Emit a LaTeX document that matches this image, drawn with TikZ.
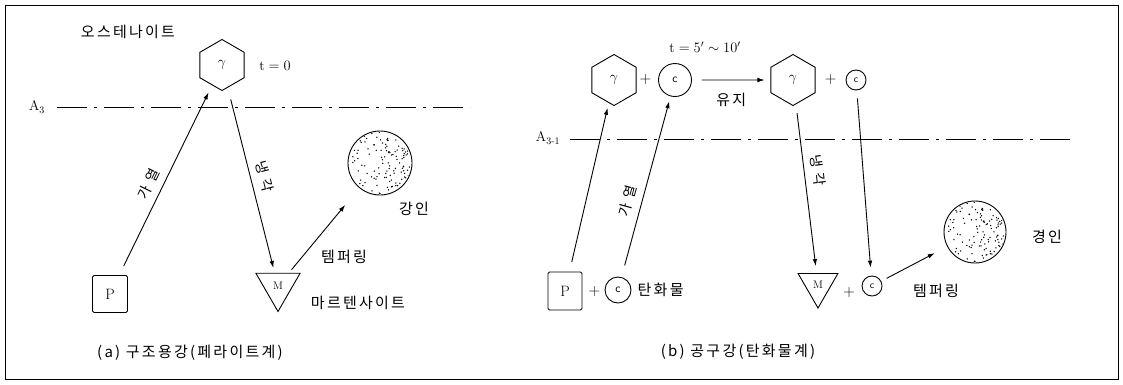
\documentclass[tikz,border=0pt]{standalone}
\usepackage{fontspec}
\usepackage{amsmath}
\newfontfamily\korfont[LetterSpace=15]{Noto Sans CJK KR}
\newfontfamily\korwide[LetterSpace=40]{Noto Sans CJK KR}
\usetikzlibrary{arrows.meta, positioning, shapes.geometric}

\begin{document}
\begin{tikzpicture}[
    x=1pt, y=-1pt,
    hexnode/.style={
      regular polygon,
      regular polygon sides=6,
      shape border rotate=30,
      draw,
      line width=0.9pt,
      inner sep=0pt,
      minimum size=51pt,
      font=\fontsize{15}{15}\selectfont
    },
    trinode/.style={
      regular polygon,
      regular polygon sides=3,
      shape border rotate=180,
      draw,
      line width=0.9pt,
      inner sep=0pt,
      font=\fontsize{11}{11}\selectfont
    },
    boxnode/.style={
      rectangle,
      rounded corners=1.5pt,
      draw,
      line width=0.9pt,
      minimum width=35pt,
      minimum height=37pt,
      font=\fontsize{15}{15}\selectfont
    },
    carbnode/.style={
      circle,
      draw,
      line width=0.9pt,
      inner sep=0pt,
      font=\sffamily\fontsize{12}{12}\selectfont
    },
    grainnode/.style={circle, draw, line width=0.9pt, inner sep=0pt},
    kortext/.style={font=\korfont\fontsize{15}{17}\selectfont, inner sep=1pt},
    numtext/.style={font=\fontsize{14}{16}\selectfont, inner sep=1pt},
    plusnode/.style={font=\fontsize{16}{16}\selectfont, inner sep=0pt},
    slopelab/.style={font=\korwide\fontsize{14}{16}\selectfont, inner sep=1pt, sloped, above=6pt},
    arr/.style={-{Latex[length=7pt, width=4.5pt]}, line width=0.9pt},
    tline/.style={line width=0.9pt, dash pattern=on 30pt off 7pt on 3pt off 7pt}
  ]
    \useasboundingbox (0,0) rectangle (1123,384);
    \draw[line width=1pt] (5,5) rectangle (1118,379);

    % (a)
    \node[kortext] (austLabel) at (128,32) {오스테나이트};
    \node[hexnode] (gammaA) at (222,65) {$\gamma$};
    \node[numtext] (timeA) at (275,66) {$\mathrm{t}=0$};
    \node[numtext] (lineLabelA) at (37,107) {A$_3$};
    \coordinate (lineA1) at (57,107);
    \coordinate (lineA2) at (470,107);
    \node[boxnode] (pearA) at (110,294) {P};
    \node[trinode, minimum size=51pt] (martA) at (278,286) {M};
    \node[kortext] (martLabelA) at (358,303) {마르텐사이트};
    \node[grainnode, minimum size=64pt] (grainA) at (380,163) {};
    \node[kortext] (tempLabelA) at (344,257) {템퍼링};
    \node[kortext] (toughA) at (414,209) {강인};
    \node[kortext] (capA) at (190,353) {(a) 구조용강(페라이트계)};

    % (b)
    \node[hexnode] (gammaB1) at (614,80) {$\gamma$};
    \node[plusnode, right=3pt of gammaB1] (plusB1) {+};
    \node[carbnode, minimum size=33pt] (carbB1) at (675,80) {c};
    \node[numtext] (timeB) at (705,47) {$\mathrm{t}=5'\sim10'$};
    \node[hexnode] (gammaB2) at (793,80) {$\gamma$};
    \node[plusnode, right=9pt of gammaB2] (plusB2) {+};
    \node[carbnode, minimum size=20pt, font=\sffamily\fontsize{10}{10}\selectfont] (carbB2) at (856,80) {c};
    \node[numtext] (lineLabelB) at (548,138) {A$_{3\text{-}1}$};
    \coordinate (lineB1) at (570,139);
    \coordinate (lineB2) at (1070,139);
    \node[boxnode, minimum width=34pt, minimum height=38pt] (pearB) at (565,291) {P};
    \node[plusnode, right=6pt of pearB] (plusB3) {+};
    \node[carbnode, minimum size=26pt] (carbB3) at (618,290) {c};
    \node[kortext, right=5pt of carbB3] (carbLabel) {탄화물};
    \node[trinode, minimum size=46pt] (martB) at (818,285) {M};
    \node[plusnode] (plusB4) at (849,292) {+};
    \node[carbnode, minimum size=20pt, font=\sffamily\fontsize{10}{10}\selectfont] (carbB4) at (872,286) {c};
    \node[kortext] (tempLabelB) at (936,291) {템퍼링};
    \node[grainnode, minimum size=62pt] (grainB) at (975,232) {};
    \node[kortext] (toughB) at (1047,237) {경인};
    \node[kortext] (capB) at (738,352) {(b) 공구강(탄화물계)};

    \foreach \g/\r in {grainA/31, grainB/30}{
      \begin{scope}
        \clip (\g.center) circle (\r pt);
        \pgfmathsetseed{17}
        \foreach \k in {1,...,110}{
          \pgfmathsetmacro\rad{\r*sqrt(rnd)}
          \pgfmathsetmacro\ang{360*rnd}
          \fill ([shift={(\ang:\rad)}]\g.center) circle (0.75pt);
        }
      \end{scope}
    }

    \draw[tline] (lineA1) -- (lineA2);
    \draw[tline] (lineB1) -- (lineB2);

    \draw[arr, shorten <=10pt, shorten >=8pt] (pearA) -- node[slopelab, pos=0.45] {가열} (gammaA);
    \draw[arr, shorten <=12pt, shorten >=5pt] (gammaA) -- node[slopelab, pos=0.5] {냉각} (martA);
    \draw[arr, shorten <=4pt, shorten >=22pt] (martA) -- (grainA);

    \draw[arr, shorten <=10pt, shorten >=5pt] (pearB) -- (gammaB1);
    \draw[arr, shorten <=12pt, shorten >=5pt] (carbB3) -- node[slopelab, pos=0.4] {가열} (carbB1);
    \draw[arr, line width=0.6pt, shorten <=10pt, shorten >=6pt] (carbB1) -- node[kortext, below=12pt] {유지} (gammaB2);
    \draw[arr, shorten <=9pt, shorten >=7pt] (gammaB2) -- node[slopelab, pos=0.4] {냉각} (martB);
    \draw[arr, shorten <=8pt, shorten >=8pt] (carbB2) -- (carbB4);
    \draw[arr, shorten <=6pt, shorten >=14pt] (carbB4) -- (grainB);
\end{tikzpicture}
\end{document}
